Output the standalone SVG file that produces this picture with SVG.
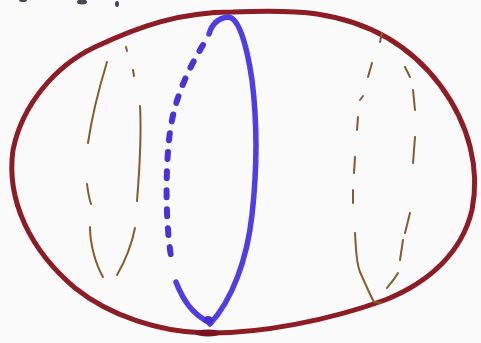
<svg xmlns="http://www.w3.org/2000/svg" width="481" height="343" viewBox="0 0 481 343">
<style>
.outer{fill:none;stroke:#8e1c24;stroke-width:5;stroke-linecap:round;stroke-linejoin:round}
.blue{fill:none;stroke:#4f3ee6;stroke-width:5.5;stroke-linecap:round;stroke-linejoin:round}
.bdash{fill:none;stroke:#4a34d8;stroke-width:6;stroke-linecap:round;stroke-dasharray:7 12}
.brown{fill:none;stroke:#8a5a2c;stroke-width:2;stroke-linecap:round;stroke-linejoin:round}
</style>
<rect width="481" height="343" fill="#fbfbfb"/>
<g id="scribbles" fill="#4a4456">
<ellipse cx="23" cy="0" rx="4" ry="2"/>
<ellipse cx="82" cy="2" rx="5" ry="2.5"/>
<ellipse cx="117" cy="4" rx="2" ry="3"/>
</g>
<g id="outer-ellipse">
<path class="outer" d="M233,12 C180,12 140,26 95,47 C55,66 22,105 13,150 C6,200 30,250 75,288 C110,316 160,332 205,333 C260,334 330,320 385,300 C430,282 462,252 472,210 C480,170 470,125 440,85 C410,45 370,22 317,14 C290,10 260,11 233,12 Z"/>
<ellipse cx="208" cy="333" rx="13" ry="3.5" fill="#7a1520"/>
</g>
<g id="blue-ellipse">
<path class="blue" d="M209,34 C212,24 218,18 228,17 C238,17 246,40 252,80 C257,120 257,170 252,215 C247,260 232,300 210,324"/>
<path class="bdash" d="M203,45 C188,70 173,100 169,140 C165,180 166,230 172,262"/>
<path class="blue" d="M176,282 C183,300 192,314 210,323"/>
<ellipse cx="208" cy="320" rx="5" ry="4" fill="#4530d0"/>
</g>
<g id="left-dashed-ellipse">
<path class="brown" d="M107,62 C100,85 92,115 88,143"/>
<path class="brown" d="M87,184 C88,192 89,198 91,204"/>
<path class="brown" d="M90,227 C90,245 96,265 103,277"/>
<path class="brown" d="M126,47 L127,51"/>
<path class="brown" d="M133,70 L134,76"/>
<path class="brown" d="M140,106 C142,140 139,175 137,201"/>
<path class="brown" d="M135,228 C131,248 124,263 117,275"/>
</g>
<g id="right-dashed-ellipse">
<path class="brown" d="M382,33 L380,42"/>
<path class="brown" d="M372,63 L368,77"/>
<path class="brown" d="M363,96 L360,100"/>
<path class="brown" d="M358,117 L357,130"/>
<path class="brown" d="M355,157 L354,173"/>
<path class="brown" d="M353,190 L353,203"/>
<path class="brown" d="M355,233 C356,250 356,262 360,272 C366,285 370,295 374,302 L381,303"/>
<path class="brown" d="M405,67 L410,77"/>
<path class="brown" d="M413,90 L415,110"/>
<path class="brown" d="M415,137 L413,163"/>
<path class="brown" d="M410,213 L405,233"/>
<path class="brown" d="M403,240 L400,260"/>
<path class="brown" d="M398,273 C394,280 390,284 387,288"/>
</g>
</svg>
